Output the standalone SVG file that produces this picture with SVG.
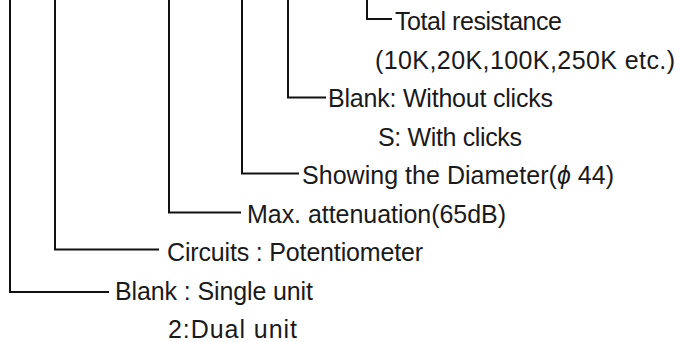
<svg xmlns="http://www.w3.org/2000/svg" width="680" height="342" viewBox="0 0 680 342">
<style>
.c{fill:none;stroke:#111;stroke-width:2;stroke-linejoin:miter}
.t{font-family:"Liberation Sans",Arial,sans-serif;font-size:25px;fill:#1a1a1a}
</style>
<rect width="680" height="342" fill="#fff"/>
<g id="connectors">
<polyline class="c" points="10,0 10,292 109,292"/>
<polyline class="c" points="55,0 55,249.5 159,249.5"/>
<polyline class="c" points="169,0 169,212.5 241,212.5"/>
<polyline class="c" points="242,0 242,173.5 299,173.5"/>
<polyline class="c" points="288,0 288,97.5 326,97.5"/>
<polyline class="c" points="367,0 367,19 392,19"/>
</g>
<g id="total-resistance">
<text class="t" x="395" y="30" textLength="167">Total resistance</text>
<text class="t" x="375" y="68.5" textLength="300">(10K,20K,100K,250K etc.)</text>
</g>
<g id="clicks">
<text class="t" x="328" y="107" textLength="225">Blank: Without clicks</text>
<text class="t" x="378" y="145.5" textLength="144">S: With clicks</text>
</g>
<g id="diameter">
<text class="t" x="302" y="184" textLength="312">Showing the Diameter(<tspan font-style="italic">ϕ</tspan> 44)</text>
</g>
<g id="attenuation">
<text class="t" x="247" y="222.5" textLength="259">Max. attenuation(65dB)</text>
</g>
<g id="circuits">
<text class="t" x="167" y="261" textLength="256">Circuits : Potentiometer</text>
</g>
<g id="units">
<text class="t" x="115" y="299.5" textLength="198">Blank : Single unit</text>
<text class="t" x="168" y="338" textLength="129">2:Dual unit</text>
</g>
</svg>
